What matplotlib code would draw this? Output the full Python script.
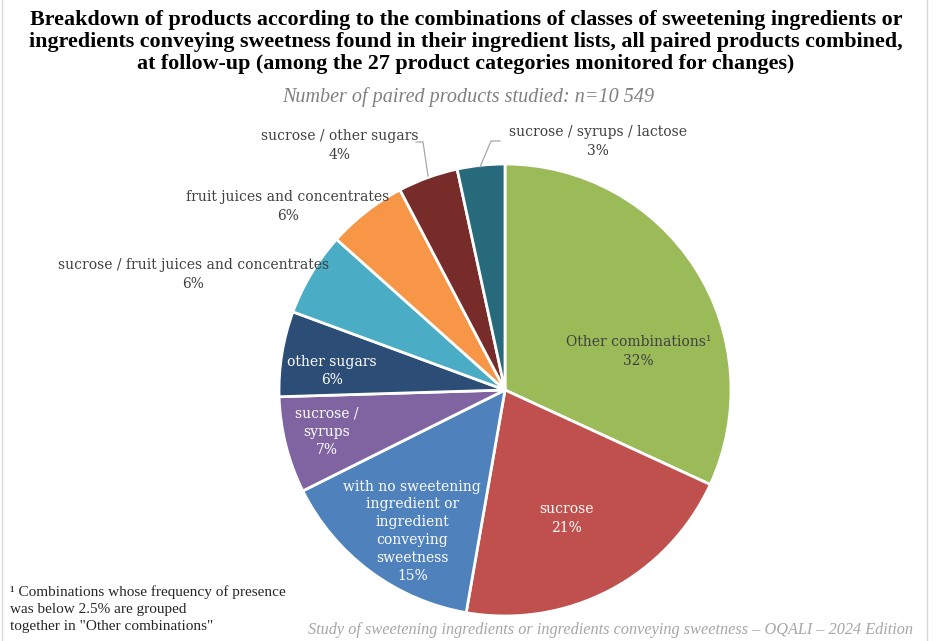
import matplotlib.pyplot as plt

# shares (%), clockwise from 12 o'clock
categories = [
    "Other combinations\u00b9",
    "sucrose",
    "with no sweetening\ningredient or\ningredient\nconveying\nsweetness",
    "sucrose /\nsyrups",
    "other sugars",
    "sucrose / fruit juices and concentrates",
    "fruit juices and concentrates",
    "sucrose / other sugars",
    "sucrose / syrups / lactose",
]
shares = [31.9, 20.9, 14.9, 6.9, 6.1, 6.0, 5.7, 4.3, 3.4]
colors = ["#9BBB59", "#C0504D", "#4F81BD", "#8064A2", "#2C4D75",
          "#4BACC6", "#F79646", "#772C2A", "#276A7C"]

# label placement in pie units (radius = 1)
label_pos = [(0.59, 0.17), (0.27, -0.57), (-0.41, -0.625), (-0.79, -0.186),
             (-0.765, 0.084), (-1.38, 0.51), (-0.96, 0.81), (-0.73, 1.08),
             (0.41, 1.10)]
label_color = ["#404040", "white", "white", "white", "white",
               "#404040", "#404040", "#404040", "#404040"]
label_spacing = [1.45, 1.45, 1.35, 1.4, 1.45, 1.45, 1.45, 1.45, 1.45]

TITLE_FONT = "Liberation Serif"
LABEL_FONT = "DejaVu Serif"

fig = plt.figure(figsize=(9.38, 6.41), dpi=100)
ax = fig.add_axes([0, 0, 1, 1])
# pie centre at (505, 390) px, radius 226 px
cx, cy, r = 505, 390, 226

ax.pie(shares, colors=colors, startangle=90, counterclock=False,
       radius=1, center=(0, 0), frame=True,
       wedgeprops=dict(edgecolor="white", linewidth=2))
ax.set_xlim(-cx / r, (938 - cx) / r)
ax.set_ylim((cy - 641) / r, cy / r)
ax.axis("off")

for cat, val, (x, y), col, ls in zip(categories, shares, label_pos,
                                      label_color, label_spacing):
    ax.text(x, y, f"{cat}\n{val:.0f}%", ha="center", va="center",
            fontsize=10, color=col, family=LABEL_FONT, linespacing=ls)

# leader lines for the two small top slices
ax.plot([(416 - cx) / r, (423 - cx) / r, (428 - cx) / r],
        [(cy - 142) / r, (cy - 142) / r, (cy - 176) / r],
        color="#A6A6A6", lw=0.9)
ax.plot([(500 - cx) / r, (491 - cx) / r, (480 - cx) / r],
        [(cy - 141) / r, (cy - 141) / r, (cy - 167) / r],
        color="#A6A6A6", lw=0.9)

fig.text(466 / 938, 1 - 42 / 641,
         "Breakdown of products according to the combinations of classes of sweetening ingredients or\n"
         "ingredients conveying sweetness found in their ingredient lists, all paired products combined,\n"
         "at follow-up (among the 27 product categories monitored for changes)",
         ha="center", va="center", fontsize=15.8, fontweight="bold",
         family=TITLE_FONT, color="black", linespacing=1.1)
fig.text(468 / 938, 1 - 97 / 641, "Number of paired products studied: n=10 549",
         ha="center", va="center", fontsize=14.5, style="italic",
         family=TITLE_FONT, color="#808080")

fig.text(10 / 938, 1 - 609 / 641,
         "\u00b9 Combinations whose frequency of presence\nwas below 2.5% are grouped\n"
         "together in \"Other combinations\"",
         ha="left", va="center", fontsize=11, family=TITLE_FONT, color="#262626",
         linespacing=1.4)
fig.text(913 / 938, 1 - 630 / 641,
         "Study of sweetening ingredients or ingredients conveying sweetness \u2013 OQALI \u2013 2024 Edition",
         ha="right", va="center", fontsize=11.7, style="italic",
         family=TITLE_FONT, color="#A6A6A6")

# faint chart-area border
for xp in (2, 927):
    fig.add_artist(plt.Line2D([xp / 938, xp / 938], [0, 1],
                              transform=fig.transFigure, color="#D9D9D9", lw=1))

fig.savefig("out.png", dpi=100)
